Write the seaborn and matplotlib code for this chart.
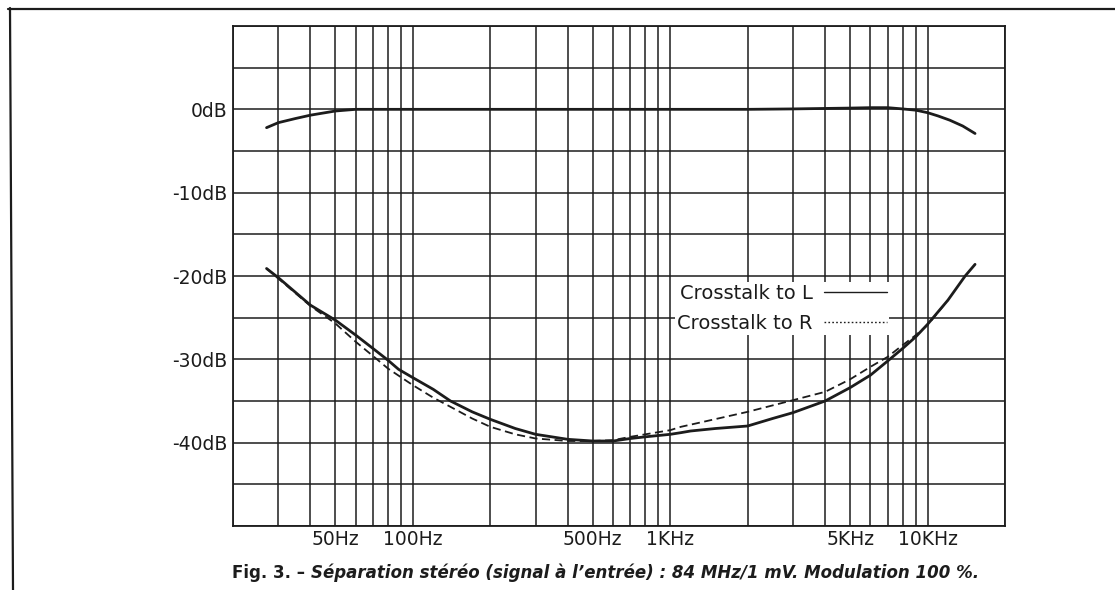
import matplotlib
matplotlib.use('Agg')
import matplotlib.pyplot as plt
from matplotlib.lines import Line2D
import seaborn as sns
import pandas as pd

# level of the wanted channel (0 dB reference)
level_freq = [27, 30, 35, 40, 50, 60, 80, 100, 200, 500, 1000, 2000, 3000, 5000,
              6000, 7000, 8000, 9000, 10000, 11000, 12200, 13700, 15300]
level_db = [-2.2, -1.6, -1.1, -0.7, -0.2, 0.0, 0.0, 0.0, 0.0, 0.0, 0.0, 0.0, 0.05, 0.15,
            0.2, 0.2, 0.05, -0.1, -0.4, -0.8, -1.3, -2.0, -2.9]

# crosstalk to L (solid)
xl_freq = [27, 30, 40, 50, 60, 70, 80, 88, 100, 120, 140, 170, 200, 250, 300, 400, 500,
           600, 700, 800, 1000, 1100, 1200, 1500, 2000, 2500, 3000, 4000, 5000, 6000,
           7000, 8000, 9000, 10000, 12000, 14000, 15300]
xl_db = [-19.1, -20.2, -23.5, -25.3, -27.1, -28.7, -30.1, -31.2, -32.2, -33.6, -35.0, -36.3,
         -37.2, -38.3, -39.0, -39.6, -39.8, -39.8, -39.5, -39.3, -39.0, -38.8, -38.6, -38.3,
         -38.0, -37.1, -36.4, -35.0, -33.4, -31.9, -30.2, -28.7, -27.3, -25.8, -22.9, -20.0,
         -18.6]

# crosstalk to R (dashed)
xr_freq = [27, 30, 40, 50, 60, 70, 80, 100, 120, 140, 170, 200, 250, 300, 400, 500, 600,
           700, 800, 1000, 1100, 1300, 2000, 3000, 4000, 5000, 6000, 7000, 8000, 9000,
           10000, 12000]
xr_db = [-19.1, -20.3, -23.6, -25.7, -27.9, -29.6, -31.1, -33.1, -34.6, -35.7, -37.1, -38.1,
         -39.0, -39.5, -39.8, -39.8, -39.7, -39.3, -39.0, -38.5, -38.1, -37.6, -36.3, -34.9,
         -33.9, -32.4, -30.9, -29.7, -28.3, -27.1, -25.9, -22.9]

x_tick_pos = [50, 100, 500, 1000, 5000, 10000]
x_tick_labels = ['50Hz', '100Hz', '500Hz', '1KHz', '5KHz', '10KHz']
legend_labels = ['Crosstalk to L', 'Crosstalk to R']
caption_head = 'Fig. 3. \u2013'
caption_body = 'S\u00e9paration st\u00e9r\u00e9o (signal \u00e0 l\u2019entr\u00e9e) : 84 MHz/1 mV. Modulation 100 %.'

sns.set_theme(style='white')
plt.rcParams['font.family'] = ['DejaVu Sans']

W, H = 1115, 590
fig = plt.figure(figsize=(W / 100, H / 100), dpi=100)
ax = fig.add_axes([233 / W, 1 - 526 / H, 772 / W, 500 / H])

ink = '#1c1c1c'
level = pd.DataFrame({'freq': level_freq, 'db': level_db})
left = pd.DataFrame({'freq': xl_freq, 'db': xl_db})
right = pd.DataFrame({'freq': xr_freq, 'db': xr_db})

sns.lineplot(data=level, x='freq', y='db', ax=ax, color=ink, lw=2.0, sort=False, estimator=None, zorder=3)
sns.lineplot(data=left, x='freq', y='db', ax=ax, color=ink, lw=2.0, sort=False, estimator=None, zorder=3)
sns.lineplot(data=right, x='freq', y='db', ax=ax, color=ink, lw=1.3, sort=False, estimator=None,
             zorder=3, linestyle=(0, (4.5, 2.5)))

ax.set_xscale('log')
ax.set_xlim(20, 20000)
ax.set_ylim(-50, 10)

# grid on every 1..9 multiple of each decade
grid_x = [k * 10 ** d for d in range(1, 5) for k in range(1, 10) if 20 <= k * 10 ** d <= 20000]
ax.set_xticks(grid_x, minor=True)
ax.set_xticks(x_tick_pos)
ax.set_xticklabels(x_tick_labels)
ax.xaxis.set_minor_formatter(matplotlib.ticker.NullFormatter())

y_pos = list(range(-50, 11, 5))
ax.set_yticks(y_pos)
ax.set_yticklabels([f'{v}dB' if v % 10 == 0 and -40 <= v <= 0 else '' for v in y_pos])

ax.grid(True, which='both', color=ink, lw=1.1)
ax.set_axisbelow(True)
ax.tick_params(axis='both', which='both', length=0, labelsize=13.5, colors=ink)
ax.tick_params(axis='x', pad=3)
ax.tick_params(axis='y', pad=4)
ax.set_xlabel('')
ax.set_ylabel('')
for s in ax.spines.values():
    s.set_color(ink)
    s.set_linewidth(1.3)

handles = [Line2D([], [], color=ink, lw=1.0),
           Line2D([], [], color=ink, lw=1.0, linestyle=(0, (1.2, 1.6)))]
leg = ax.legend(handles, legend_labels, loc='upper left', bbox_to_anchor=(0.5725, 0.488),
                borderaxespad=0, borderpad=0.1, markerfirst=False, handlelength=3.25,
                handletextpad=0.6, labelspacing=0.55, fontsize=14, frameon=True,
                fancybox=False)
leg.get_frame().set_facecolor('white')
leg.get_frame().set_edgecolor('none')
leg.get_frame().set_alpha(1)
for t in leg.get_texts():
    t.set_color(ink)

# scanned page frame
fig.add_artist(Line2D([8 / W, 1.0], [1 - 8.5 / H, 1 - 8.5 / H], transform=fig.transFigure, color=ink, lw=1.6))
fig.add_artist(Line2D([10 / W, 13 / W], [1 - 8 / H, 0.0], transform=fig.transFigure, color=ink, lw=1.6))

# caption, upright head then italic body, sized to span 232..978 px
cy = 1 - 578 / H
t1 = fig.text(232 / W, cy, caption_head, fontsize=12, weight='bold', va='baseline', color=ink)
t2 = fig.text(0.5, cy, caption_body, fontsize=12, weight='bold', style='italic', va='baseline', color=ink)
r = fig.canvas.get_renderer()
total = t1.get_window_extent(r).width + 6 + t2.get_window_extent(r).width
size = 12 * 746 / total
t1.set_fontsize(size)
t2.set_fontsize(size)
bb = t1.get_window_extent(r)
t2.set_x((bb.x1 + 6) / W)

fig.savefig('out.png', dpi=100)
